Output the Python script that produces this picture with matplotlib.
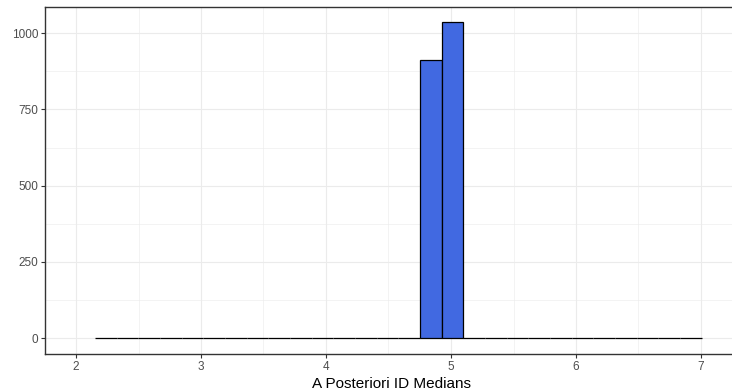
import numpy as np
import matplotlib
matplotlib.use("Agg")
import matplotlib.pyplot as plt
from matplotlib.ticker import MultipleLocator

# histogram of posterior ID medians
bin_start = 2.152
bin_width = 0.1733
counts = [1, 0, 0, 0, 0, 0, 0, 0, 0, 0,
          0, 0, 0, 0, 0, 912, 1035, 0, 0, 0,
          0, 0, 0, 0, 0, 0, 0, 1]
x_ticks = [2, 3, 4, 5, 6, 7]
y_ticks = [0, 250, 500, 750, 1000]
x_label = "A Posteriori ID Medians"

plt.rcParams['font.family'] = ['Liberation Sans', 'DejaVu Sans']

fig = plt.figure(figsize=(7.32, 3.92), dpi=100)
# panel runs a little past the right edge of the picture (cropped)
ax = fig.add_axes([45 / 732, 1 - 354 / 392, 693 / 732, (354 - 6.7) / 392])

lefts = bin_start + bin_width * np.arange(len(counts))
ax.bar(lefts, counts, width=bin_width, align='edge', color='#4169E1',
       edgecolor='black', linewidth=0.9, zorder=3)

ax.set_xlim(1.752, 7.296)
ax.set_ylim(-51.75, 1086.75)

ax.set_xticks(x_ticks)
ax.set_yticks(y_ticks)
ax.xaxis.set_minor_locator(MultipleLocator(0.5))
ax.yaxis.set_minor_locator(MultipleLocator(125))

ax.grid(which='major', color='#EBEBEB', linewidth=0.8, zorder=0)
ax.grid(which='minor', color='#EBEBEB', linewidth=0.4, zorder=0)
ax.set_axisbelow(True)

for s in ax.spines.values():
    s.set_color('#333333')
    s.set_linewidth(1.0)

ax.tick_params(which='major', length=3, width=0.8, color='#333333',
               labelsize=8.5, labelcolor='#4D4D4D', pad=2)
ax.tick_params(which='minor', length=0)

ax.set_xlabel(x_label, fontsize=11, color='black', labelpad=3)

fig.savefig("out.png", dpi=100)
